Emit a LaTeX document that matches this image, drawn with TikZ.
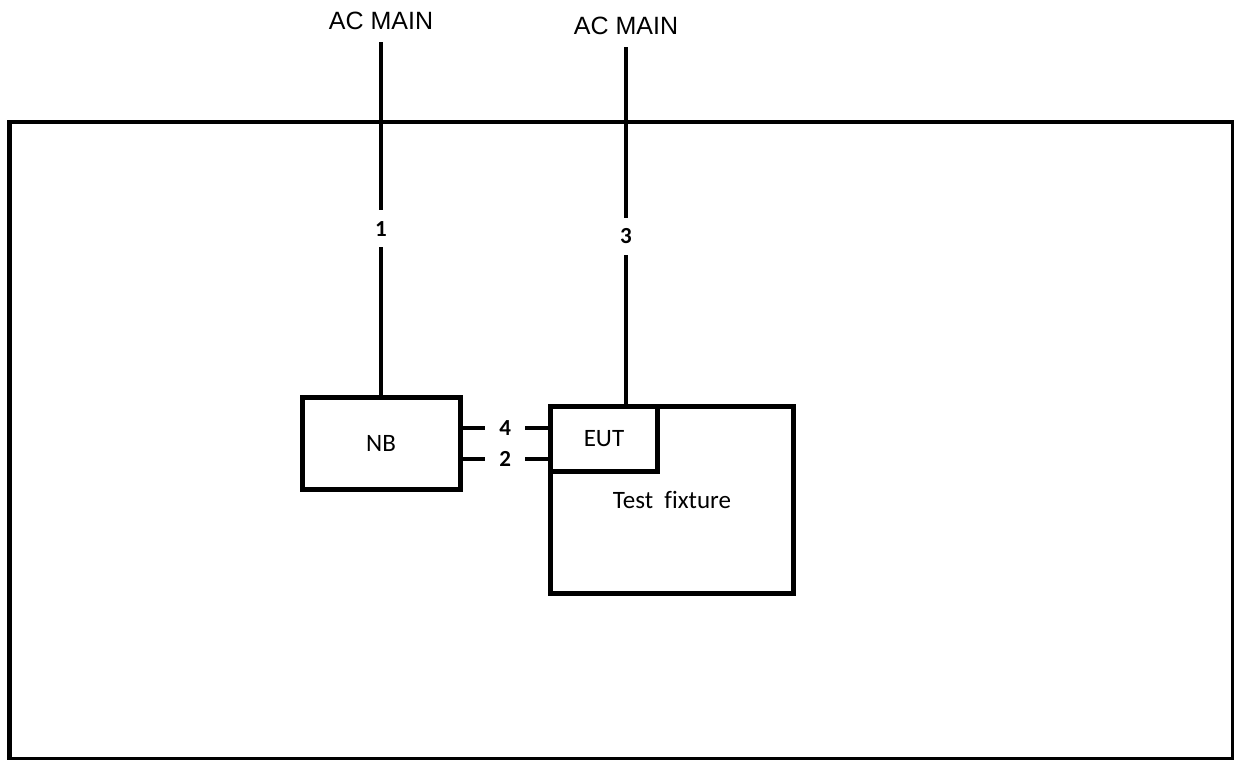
\documentclass[tikz,border=0pt]{standalone}
\usepackage{fontspec}
\setmainfont{Carlito}[Ligatures=CommonOff]
\newfontfamily\acfont{Liberation Sans}
\usetikzlibrary{positioning,calc}

\tikzset{
  unitbox/.style={draw, line width=5pt, rectangle, inner sep=0pt, font=\fontsize{25}{28}\selectfont},
  acmain/.style={inner xsep=2pt, inner ysep=12pt, font=\acfont\fontsize{25}{28}\selectfont},
  feed/.style={line width=3.5pt},
  portlbl/.style={fill=white, inner xsep=14pt, inner ysep=2pt, font=\bfseries\fontsize{23}{26}\selectfont},
  cablelbl/.style={fill=white, inner xsep=2pt, inner ysep=11pt, font=\bfseries\fontsize{23}{26}\selectfont}
}

\begin{document}
\begin{tikzpicture}[x=1pt, y=-1pt]
            \useasboundingbox (0,0) rectangle (1234,760);

            % Room
            \draw[line width=4.5pt] (9.5,122) rectangle (1233,759);

            % Mains
            \node[acmain] (ac1) at (381,21) {AC MAIN};
            \node[acmain] (ac2) at (626,26) {AC MAIN};

            % NB
            \node[unitbox, minimum width=158pt, minimum height=92pt] (nb) at (381,443) {NB};

            % Test fixture with EUT in its corner
            \node[unitbox, minimum width=243pt, minimum height=187pt] (fix) at (672,500) {Test\hspace{0.45em}fixture};
            \node[unitbox, minimum width=107pt, minimum height=65pt, anchor=north west] (eut) at (fix.north west) {EUT};

            % Cables
            \coordinate (p4) at (505,428);
            \coordinate (p2) at (505,459);
            \draw[feed] (ac1.south) -- node[cablelbl, pos=0.53] {1} (nb.north);
            \draw[feed] (ac2.south) -- node[cablelbl, pos=0.53] {3} (ac2.south |- eut.north);
            \draw[feed] (nb.east |- p4) -- node[portlbl] {4} (fix.west |- p4);
            \draw[feed] (nb.east |- p2) -- node[portlbl] {2} (fix.west |- p2);
        \end{tikzpicture}
\end{document}
